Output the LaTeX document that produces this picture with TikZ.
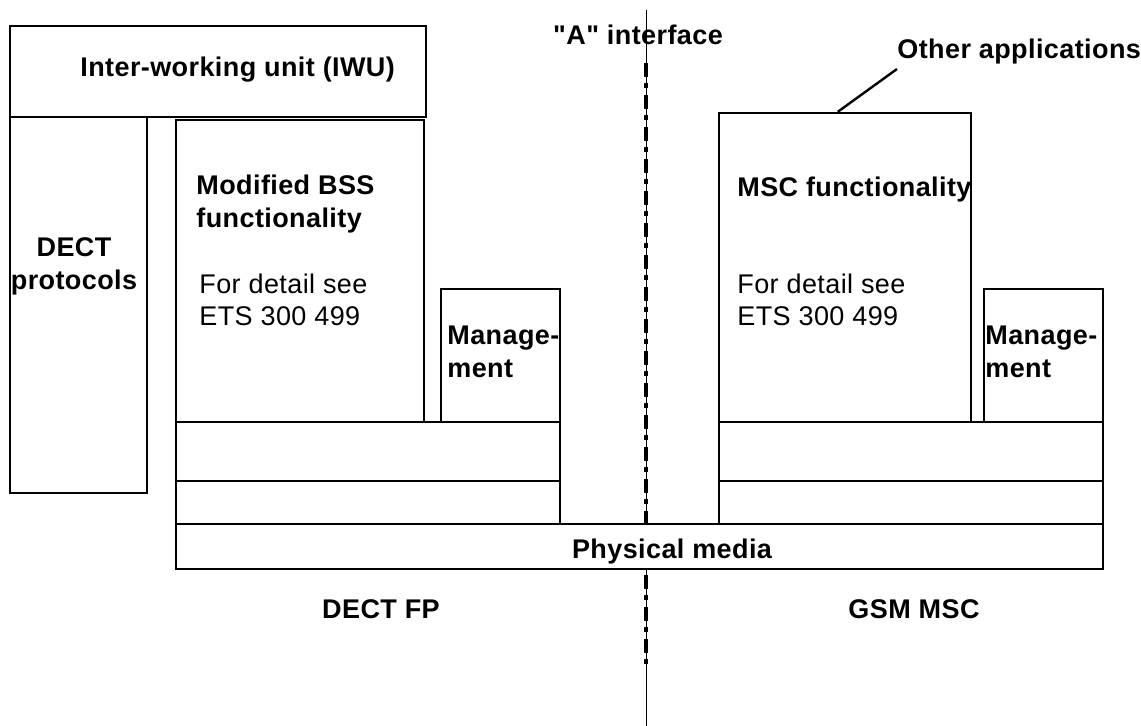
\documentclass[tikz,border=0pt]{standalone}
\usepackage{fontspec}
\setmainfont[LetterSpace=1.5]{Liberation Sans}
\newfontfamily\plainqfont[LetterSpace=1.5]{Liberation Sans}
\usetikzlibrary{fit}
\begin{document}
\begin{tikzpicture}[x=0.5pt,y=-0.5pt,
  box/.style={draw, line width=1.2pt, inner sep=0pt},
  lbl/.style={font=\fontsize{13.5}{16.5}\selectfont\bfseries, inner sep=0pt, anchor=base west},
  txt/.style={font=\fontsize{13.5}{16.5}\selectfont, inner sep=0pt, anchor=base west},
  lblc/.style={lbl, anchor=base},
  iface/.style={line width=0.5pt},
  ifacedash/.style={line width=1.6pt, dash pattern=on 7pt off 3pt on 2.5pt off 3.5pt}]
\useasboundingbox (0,0) rectangle (1141,726);
% interface line
\coordinate (itop) at (646,10);
\coordinate (idtop) at (646,63);
\coordinate (idbot) at (646,667);
\coordinate (ibot) at (646,726);
\draw[iface] (itop) -- (ibot);
\draw[ifacedash] (idtop) -- (idbot);
% boxes
\node[box, fit={(10,26) (426,117)}] (iwu) {};
\node[box, fit={(10,117) (147,493)}] (dect) {};
\node[box, fit={(176,120) (424,422)}] (bss) {};
\node[box, fit={(441,289) (560,422)}] (mgmtL) {};
\node[box, fit={(176,422) (560,481)}] (l1L) {};
\node[box, fit={(176,481) (560,524)}] (l2L) {};
\node[box, fill=white, fit={(176,524) (1103,569)}] (phys) {};
\node[box, fit={(719,113) (971,422)}] (msc) {};
\node[box, fit={(984,289) (1103,422)}] (mgmtR) {};
\node[box, fit={(719,422) (1103,481)}] (l1R) {};
\node[box, fit={(719,481) (1103,524)}] (l2R) {};
% texts
\node[lbl] (tiwu) at (80,77) {Inter-working unit (IWU)};
\node[lblc] (tdect1) at (74,257) {DECT};
\node[lblc] (tdect2) at (74,290) {protocols};
\node[lbl] (tbss1) at (196,195) {Modified BSS};
\node[lbl] (tbss2) at (196,228) {functionality};
\node[txt] (tdetL1) at (199,294) {For detail see};
\node[txt] (tdetL2) at (199,326) {ETS 300 499};
\node[lbl] (tmgL1) at (447,345) {Manage-};
\node[lbl] (tmgL2) at (447,378) {ment};
\node[lbl] (tmsc) at (737,197) {MSC functionality};
\node[txt] (tdetR1) at (737,294) {For detail see};
\node[txt] (tdetR2) at (737,326) {ETS 300 499};
\node[lbl] (tmgR1) at (985,345) {Manage-};
\node[lbl] (tmgR2) at (985,378) {ment};
\node[lblc] (tphys) at (672,559) {Physical media};
\node[lblc] (tfp) at (381,619) {DECT FP};
\node[lblc] (tgsm) at (914,619) {GSM MSC};
\node[lblc, font=\fontsize{13.5}{16.5}\plainqfont\bfseries] (tA) at (638,45) {"A" interface};
\node[lbl] (toth) at (897,59) {Other applications};
% leader line
\coordinate (othfoot) at (897,69);
\path (msc.north west) ++(120,0) coordinate (mscpt);
\draw[line width=1.2pt] (mscpt) -- (othfoot);
\end{tikzpicture}
\end{document}
